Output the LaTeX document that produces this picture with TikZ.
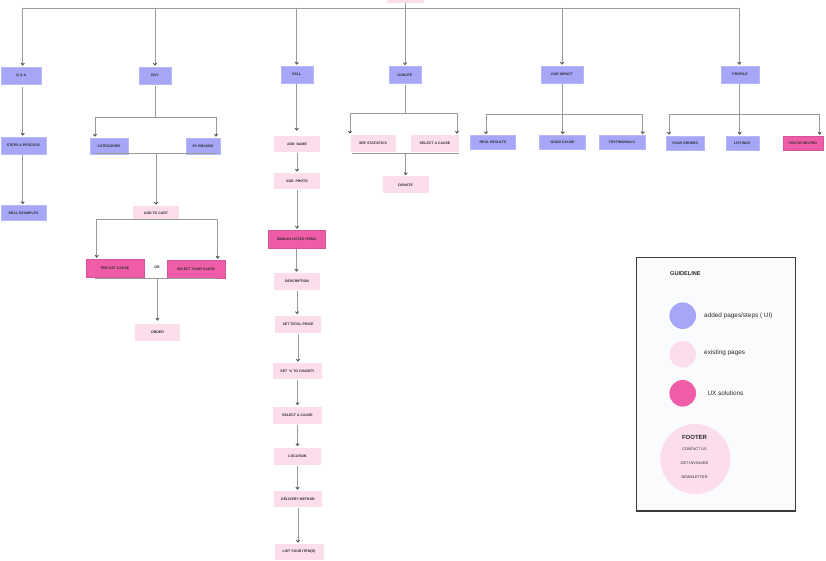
\documentclass[tikz,border=0pt]{standalone}
\usepackage{fontspec}
\setmainfont{Liberation Sans}
\usetikzlibrary{arrows.meta}
\definecolor{uiblue}{HTML}{A5A6F6}
\definecolor{expink}{HTML}{FCDDEC}
\definecolor{uxpink}{HTML}{EF5DA8}
\definecolor{connc}{HTML}{9A9A9A}
\definecolor{tipc}{HTML}{555555}
\definecolor{txt}{HTML}{2B2B2B}
\definecolor{legendbg}{HTML}{FAFBFD}
\definecolor{legendline}{HTML}{3A3A3A}
\begin{document}
\begin{tikzpicture}[x=1pt,y=-1pt,
 box/.style={rectangle, inner sep=0pt, minimum height=17pt, text=txt, font=\bfseries\fontsize{3.5}{4}\selectfont, anchor=center},
 uibox/.style={box, fill=uiblue, draw=uiblue!80!white, line width=0.4pt},
 exbox/.style={box, fill=expink},
 uxbox/.style={box, fill=uxpink, draw=uxpink!90!black, line width=0.3pt},
 link/.style={draw=connc, line width=0.9pt},
 arr/.style={link, -{Straight Barb[length=2pt,width=3.2pt,color=tipc]}, shorten >=1pt},
 legtext/.style={anchor=west, inner sep=0pt, text=txt, font=\fontsize{6.4}{7}\selectfont},
 footitem/.style={text=txt, font=\fontsize{3.8}{4.5}\selectfont},
 dot/.style={circle, inner sep=0pt, minimum size=26.6pt}
]
\useasboundingbox (0,0) rectangle (826,561);

% ---------- nodes ----------
\node[exbox, minimum width=37pt] (root) at (405.5,-5.5) {};

\node[uibox, minimum width=40pt] (qa) at (21.3,75.5) {Q \& A};
\node[uibox, minimum width=32pt] (buy) at (155,75.5) {BUY};
\node[uibox, minimum width=32pt] (sell) at (296.7,74.5) {SELL};
\node[uibox, minimum width=32pt] (donate) at (405,75) {DONATE};
\node[uibox, minimum width=42pt] (impact) at (562,74.5) {OUR IMPACT};
\node[uibox, minimum width=38pt] (profile) at (740,74.5) {PROFILE};

\node[uibox, minimum width=45pt] (steps) at (23.5,145.5) {STEPS \& PROCESS};
\node[uibox, minimum width=45pt, minimum height=15pt] (real) at (23.5,213) {REAL EXAMPLES};

\node[uibox, minimum width=38pt, minimum height=16pt] (cat) at (109,146) {CATEGORIES};
\node[uibox, minimum width=34pt, minimum height=16pt] (brands) at (203,146) {BY BRANDS};
\node[exbox, minimum width=46pt, minimum height=14pt] (cart) at (156,213) {ADD TO CART};
\node[uxbox, minimum width=58pt, minimum height=18pt] (preset) at (115,268) {PRE-SET CAUSE};
\node[box, text=txt] (orlbl) at (157,267) {OR};
\node[uxbox, minimum width=58pt, minimum height=18pt] (selcause) at (196,269) {SELECT YOUR CAUSE};
\node[exbox, minimum width=45pt] (order) at (157.5,332.5) {ORDER};

\node[exbox, minimum width=46pt, minimum height=16pt] (addname) at (297,144) {ADD\ \ NAME};
\node[exbox, minimum width=46pt, minimum height=16pt] (addphoto) at (297,181) {ADD\ \ PHOTO};
\node[uxbox, minimum width=57pt, minimum height=18pt] (similar) at (296.5,239) {SIMILAR LISTED ITEMS};
\node[exbox, minimum width=46pt] (desc) at (297,281.5) {DESCRIPTION};
\node[exbox, minimum width=46pt] (price) at (298,324) {SET TOTAL PRICE};
\node[exbox, minimum width=49pt, minimum height=16pt] (charity) at (297.5,371) {SET\ \ \% TO CHARITY};
\node[exbox, minimum width=49pt] (selsell) at (297.5,415) {SELECT A CAUSE};
\node[exbox, minimum width=47pt] (location) at (297.5,456) {LOCATION};
\node[exbox, minimum width=48pt, minimum height=16pt] (delivery) at (298,499) {DELIVERY METHOD};
\node[exbox, minimum width=49pt, minimum height=16pt] (list) at (299,552) {LIST YOUR ITEM(S)};

\node[exbox, minimum width=45pt] (stats) at (373,143.5) {SEE STATISTICS};
\node[exbox, minimum width=48pt] (seldon) at (435,143.5) {SELECT A CAUSE};
\node[exbox, minimum width=46pt] (donate2) at (405.7,185) {DONATE};

\node[uibox, minimum width=45pt, minimum height=14pt] (results) at (493,142.5) {REAL RESULTS};
\node[uibox, minimum width=46pt, minimum height=14pt] (good) at (562.5,142.5) {GOOD CAUSE};
\node[uibox, minimum width=46pt, minimum height=14pt] (testi) at (622,142.5) {TESTIMONIALS};
\node[uibox, minimum width=38pt, minimum height=14pt] (orders) at (685,143) {YOUR ORDERS};
\node[uibox, minimum width=33pt, minimum height=14pt] (listings) at (742.3,143) {LISTINGS};
\node[uxbox, minimum width=40pt, minimum height=14pt] (helped) at (802.7,143) {YOU'VE HELPED};

% ---------- top bus ----------
\coordinate (busL) at (22.7,8);
\coordinate (busR) at (739.3,8);
\draw[link] (busL) -- (busR);
\draw[link] (root.south) -- (root.south |- busL);
\draw[arr] (busL) -- (busL |- qa.north);
\draw[arr] (buy.north |- busL) -- (buy.north);
\draw[arr] (sell.north |- busL) -- (sell.north);
\draw[arr] (donate.north |- busL) -- (donate.north);
\draw[arr] (impact.north |- busL) -- (impact.north);
\draw[arr] (busR) -- (busR |- profile.north);

% ---------- Q&A ----------
\draw[arr, shorten <=3pt] (qa.south -| busL) -- (busL |- steps.north);
\draw[arr, shorten <=1pt] (steps.south -| busL) -- (busL |- real.north);

% ---------- BUY ----------
\coordinate (buyJ) at (155,117);
\coordinate (buyL) at (95,117);
\coordinate (buyR) at (216,117);
\draw[link, shorten <=1.5pt] (buy.south) -- (buy.south |- buyJ);
\draw[link] (buyL) -- (buyR);
\draw[arr] (buyL) -- (buyL |- cat.north);
\draw[arr] (buyR) -- (buyR |- brands.north);
\coordinate (buyU1) at (95,153.5);
\coordinate (buyU2) at (216,153.5);
\draw[link] (buyU1) -- (buyU2);
\draw[arr] (cart.north |- buyU1) -- (cart.north);

\coordinate (cartL) at (96.7,219.5);
\coordinate (cartR) at (217.7,219.5);
\draw[link] (cartL) -- (cartR);
\draw[arr] (cartL) -- (cartL |- preset.north);
\draw[arr] (cartR) -- (cartR |- selcause.north);
\coordinate (preU1) at (95,278.7);
\coordinate (preU2) at (217,278.7);
\draw[link] (preU1) -- (preU2);
\draw[arr, shorten >=3pt] (order.north |- preU1) -- (order.north);

% ---------- SELL ----------
\draw[arr, shorten >=5pt, shorten <=1pt] (sell.south) -- (sell.south |- addname.north);
\foreach \a/\b in {addname/addphoto, addphoto/similar, similar/desc, desc/price,
                   price/charity, charity/selsell, selsell/location,
                   location/delivery, delivery/list}
  \draw[arr, shorten <=1pt] (\a.south) -- (\a.south |- \b.north);

% ---------- DONATE ----------
\coordinate (donJ) at (405,113.3);
\coordinate (donL) at (350,113.3);
\coordinate (donR) at (457,113.3);
\draw[link, shorten <=1pt] (donate.south) -- (donate.south |- donJ);
\draw[link] (donL) -- (donR);
\draw[arr] (donL) -- (donL |- stats.north);
\draw[arr] (donR) -- (donR |- seldon.north);
\coordinate (donU1) at (352,153.5);
\coordinate (donU2) at (459,153.5);
\draw[link] (donU1) -- (donU2);
\draw[arr] (donate2.north |- donU1) -- (donate2.north);

% ---------- OUR IMPACT ----------
\coordinate (impJ) at (562.7,114.3);
\coordinate (impL) at (486,114.3);
\coordinate (impR) at (642.7,114.3);
\draw[link, shorten <=1pt] (impact.south -| impJ) -- (impJ);
\draw[link] (impL) -- (impR);
\draw[arr] (impL) -- (impL |- results.north);
\draw[arr] (impJ) -- (impJ |- good.north);
\draw[arr] (impR) -- (impR |- testi.north);

% ---------- PROFILE ----------
\coordinate (proJ) at (739.7,114.3);
\coordinate (proL) at (669,114.3);
\coordinate (proR) at (819.7,114.3);
\draw[link, shorten <=1pt] (profile.south -| proJ) -- (proJ);
\draw[link] (proL) -- (proR);
\draw[arr] (proL) -- (proL |- orders.north);
\draw[arr] (proJ) -- (proJ |- listings.north);
\draw[arr] (proR) -- (proR |- helped.north);

% ---------- legend ----------
\node[rectangle, fill=legendbg, draw=legendline, line width=1.2pt,
      minimum width=159pt, minimum height=253.7pt, inner sep=0pt] (legend) at (716.2,384.2) {};
\node[anchor=west, inner sep=0pt, text=txt, font=\bfseries\fontsize{5.6}{6}\selectfont] (guide) at (670,273.3) {GUIDELINE};
\node[dot, fill=uiblue] (cui) at (682.7,315.7) {};
\node[legtext] (lui) at (704,316) {added pages/steps ( UI)};
\node[dot, fill=expink] (cex) at (682.7,354.3) {};
\node[legtext] (lex) at (704,352.5) {existing pages};
\node[dot, fill=uxpink] (cux) at (682.7,393.3) {};
\node[legtext] (lux) at (707.3,393.3) {UX solutions};
\node[circle, inner sep=0pt, minimum size=70pt, fill=expink] (footer) at (695.3,459) {};
\node[text=txt, font=\bfseries\fontsize{6}{7}\selectfont] (ftitle) at (694.5,437.7) {FOOTER};
\node[footitem] (f1) at (694.5,449.3) {CONTACT US};
\node[footitem] (f2) at (694.5,463.3) {GET INVOLVED};
\node[footitem] (f3) at (694.5,476.7) {NEWSLETTER};
\end{tikzpicture}
\end{document}
